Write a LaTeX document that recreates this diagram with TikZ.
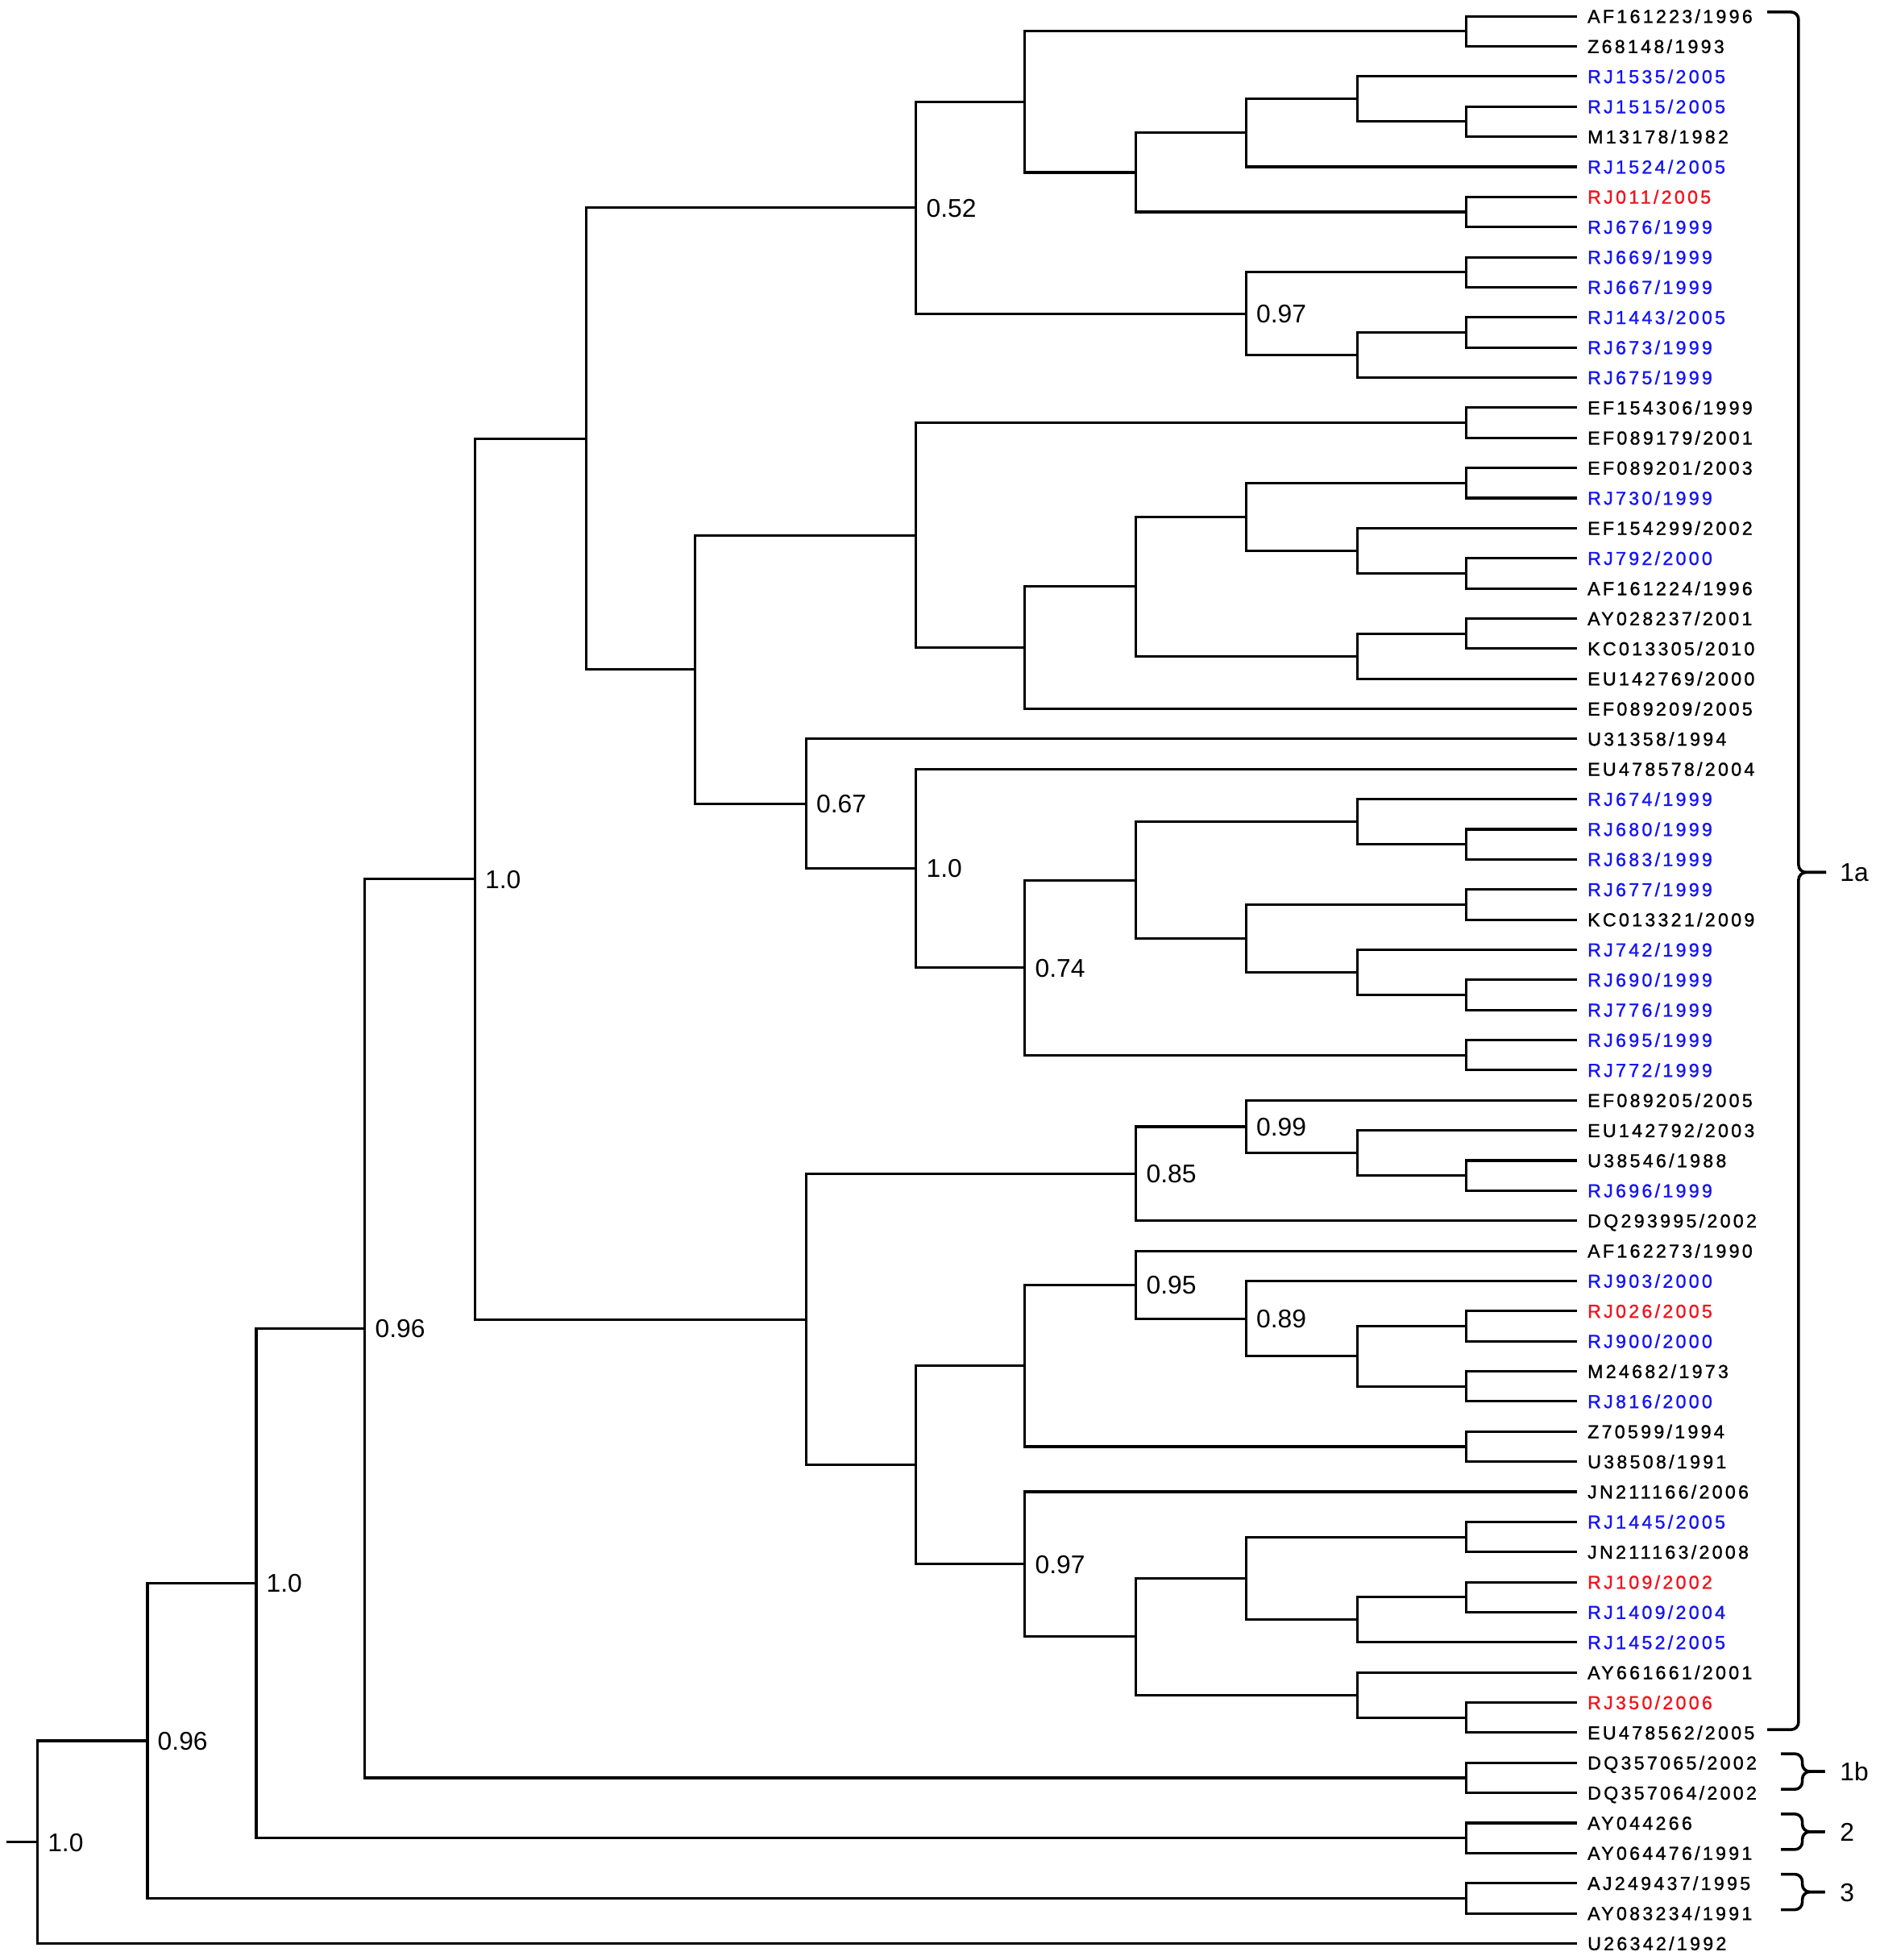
\documentclass[tikz,border=0pt]{standalone}
\usepackage{fontspec}
\newfontfamily\leaffont[LetterSpace=14,FakeBold=1.2]{Liberation Sans}
\newfontfamily\bsfont{Liberation Sans}
\definecolor{lblue}{RGB}{20,20,245}
\definecolor{lred}{RGB}{240,20,30}
\newcommand{\mkleaf}[3]{\coordinate (t#1) at (1262,#1); \node[leaf,text=#2] (l#1) at (1270,#1) {#3};}
\begin{document}
\begin{tikzpicture}[x=1pt,y=-24.09pt,
  leaf/.style={anchor=west,inner sep=0pt,text height=10.7pt,text depth=0pt,font=\leaffont\fontsize{15pt}{15pt}\selectfont},
  bs/.style={anchor=west,inner sep=0pt,text height=14.7pt,text depth=0pt,xshift=8pt,font=\bsfont\fontsize{20.5pt}{20.5pt}\selectfont},
  grp/.style={anchor=west,inner sep=0pt,text height=14.7pt,text depth=0pt,font=\bsfont\fontsize{20.5pt}{20.5pt}\selectfont},
  br/.style={line width=2pt,black},
  brk/.style={line width=2.3pt,black,rounded corners=6pt}]
\path[use as bounding box] (0pt,0pt) rectangle (1504pt,-1568pt);
\begin{scope}[yshift=11.09pt]
% leaves
\mkleaf{1}{black}{AF161223/1996}
\mkleaf{2}{black}{Z68148/1993}
\mkleaf{3}{lblue}{RJ1535/2005}
\mkleaf{4}{lblue}{RJ1515/2005}
\mkleaf{5}{black}{M13178/1982}
\mkleaf{6}{lblue}{RJ1524/2005}
\mkleaf{7}{lred}{RJ011/2005}
\mkleaf{8}{lblue}{RJ676/1999}
\mkleaf{9}{lblue}{RJ669/1999}
\mkleaf{10}{lblue}{RJ667/1999}
\mkleaf{11}{lblue}{RJ1443/2005}
\mkleaf{12}{lblue}{RJ673/1999}
\mkleaf{13}{lblue}{RJ675/1999}
\mkleaf{14}{black}{EF154306/1999}
\mkleaf{15}{black}{EF089179/2001}
\mkleaf{16}{black}{EF089201/2003}
\mkleaf{17}{lblue}{RJ730/1999}
\mkleaf{18}{black}{EF154299/2002}
\mkleaf{19}{lblue}{RJ792/2000}
\mkleaf{20}{black}{AF161224/1996}
\mkleaf{21}{black}{AY028237/2001}
\mkleaf{22}{black}{KC013305/2010}
\mkleaf{23}{black}{EU142769/2000}
\mkleaf{24}{black}{EF089209/2005}
\mkleaf{25}{black}{U31358/1994}
\mkleaf{26}{black}{EU478578/2004}
\mkleaf{27}{lblue}{RJ674/1999}
\mkleaf{28}{lblue}{RJ680/1999}
\mkleaf{29}{lblue}{RJ683/1999}
\mkleaf{30}{lblue}{RJ677/1999}
\mkleaf{31}{black}{KC013321/2009}
\mkleaf{32}{lblue}{RJ742/1999}
\mkleaf{33}{lblue}{RJ690/1999}
\mkleaf{34}{lblue}{RJ776/1999}
\mkleaf{35}{lblue}{RJ695/1999}
\mkleaf{36}{lblue}{RJ772/1999}
\mkleaf{37}{black}{EF089205/2005}
\mkleaf{38}{black}{EU142792/2003}
\mkleaf{39}{black}{U38546/1988}
\mkleaf{40}{lblue}{RJ696/1999}
\mkleaf{41}{black}{DQ293995/2002}
\mkleaf{42}{black}{AF162273/1990}
\mkleaf{43}{lblue}{RJ903/2000}
\mkleaf{44}{lred}{RJ026/2005}
\mkleaf{45}{lblue}{RJ900/2000}
\mkleaf{46}{black}{M24682/1973}
\mkleaf{47}{lblue}{RJ816/2000}
\mkleaf{48}{black}{Z70599/1994}
\mkleaf{49}{black}{U38508/1991}
\mkleaf{50}{black}{JN211166/2006}
\mkleaf{51}{lblue}{RJ1445/2005}
\mkleaf{52}{black}{JN211163/2008}
\mkleaf{53}{lred}{RJ109/2002}
\mkleaf{54}{lblue}{RJ1409/2004}
\mkleaf{55}{lblue}{RJ1452/2005}
\mkleaf{56}{black}{AY661661/2001}
\mkleaf{57}{lred}{RJ350/2006}
\mkleaf{58}{black}{EU478562/2005}
\mkleaf{59}{black}{DQ357065/2002}
\mkleaf{60}{black}{DQ357064/2002}
\mkleaf{61}{black}{AY044266}
\mkleaf{62}{black}{AY064476/1991}
\mkleaf{63}{black}{AJ249437/1995}
\mkleaf{64}{black}{AY083234/1991}
\mkleaf{65}{black}{U26342/1992}
% cherry pairs
\foreach \n/\p in {P1/1.5,P2/4.5,P3/7.5,P4/9.5,P5/11.5,P6/14.5,P7/16.5,P8/19.5,P9/21.5,P10/28.5,P11/30.5,P12/33.5,P13/39.5,P14/35.5,P15/44.5,P16/46.5,P17/48.5,P18/51.5,P19/53.5,P20/57.5,P21/59.5,P22/61.5,P23/63.5}
  \coordinate (\n) at (1173,\p);
% internal nodes
\coordinate (a1) at (820,3.84375);
\coordinate (a2) at (909,6.1875);
\coordinate (a3) at (997,4.875);
\coordinate (a4) at (1086,3.75);
\coordinate (b1) at (997,10.875);
\coordinate (b2) at (1086,12.25);
\coordinate (c1) at (733,7.359375);
\coordinate (d1) at (733,18.234375);
\coordinate (d2) at (820,21.96875);
\coordinate (d3) at (909,19.9375);
\coordinate (d4) at (997,17.625);
\coordinate (d5) at (1086,18.75);
\coordinate (d6) at (1086,22.25);
\coordinate (e1) at (645,27.1484375);
\coordinate (e2) at (733,29.296875);
\coordinate (e3) at (820,32.59375);
\coordinate (e4) at (909,29.6875);
\coordinate (e5) at (1086,27.75);
\coordinate (e6) at (997,31.625);
\coordinate (e7) at (1086,32.75);
\coordinate (f1) at (556,22.69140625);
\coordinate (g1) at (469,15.025390625);
\coordinate (h1) at (645,44.2734375);
\coordinate (h2) at (909,39.4375);
\coordinate (h3) at (997,37.875);
\coordinate (h4) at (1086,38.75);
\coordinate (h6) at (733,49.109375);
\coordinate (h7) at (820,45.8125);
\coordinate (h8) at (909,43.125);
\coordinate (h9) at (997,44.25);
\coordinate (h10) at (1086,45.5);
\coordinate (h11) at (820,52.40625);
\coordinate (h12) at (909,54.8125);
\coordinate (h13) at (997,52.875);
\coordinate (h14) at (1086,54.25);
\coordinate (h15) at (1086,56.75);
\coordinate (i1) at (380,29.6494);
\coordinate (j1) at (292,44.5747);
\coordinate (k1) at (205,53.0374);
\coordinate (l1) at (118,58.2687);
\coordinate (root) at (30,61.6343);
\coordinate (rs) at (5,61.6343);
% branches
\draw[br] (rs) -- (root);
\foreach \p/\c in {root/l1,root/t65,l1/k1,l1/P23,P23/t63,P23/t64,k1/j1,k1/P22,P22/t61,P22/t62,
  j1/i1,j1/P21,P21/t59,P21/t60,i1/g1,i1/h1,g1/c1,g1/f1,c1/a1,c1/b1,a1/P1,a1/a2,P1/t1,P1/t2,
  a2/a3,a2/P3,a3/a4,a3/t6,a4/t3,a4/P2,P2/t4,P2/t5,P3/t7,P3/t8,b1/P4,b1/b2,P4/t9,P4/t10,
  b2/P5,b2/t13,P5/t11,P5/t12,f1/d1,f1/e1,d1/P6,d1/d2,P6/t14,P6/t15,d2/d3,d2/t24,d3/d4,d3/d6,
  d4/P7,d4/d5,P7/t16,P7/t17,d5/t18,d5/P8,P8/t19,P8/t20,d6/P9,d6/t23,P9/t21,P9/t22,
  e1/t25,e1/e2,e2/t26,e2/e3,e3/e4,e3/P14,e4/e5,e4/e6,e5/t27,e5/P10,P10/t28,P10/t29,
  e6/P11,e6/e7,P11/t30,P11/t31,e7/t32,e7/P12,P12/t33,P12/t34,P14/t35,P14/t36,
  h1/h2,h1/h6,h2/h3,h2/t41,h3/t37,h3/h4,h4/t38,h4/P13,P13/t39,P13/t40,h6/h7,h6/h11,
  h7/h8,h7/P17,h8/t42,h8/h9,h9/t43,h9/h10,h10/P15,h10/P16,P15/t44,P15/t45,P16/t46,P16/t47,
  P17/t48,P17/t49,h11/t50,h11/h12,h12/h13,h12/h15,h13/P18,h13/h14,P18/t51,P18/t52,
  h14/P19,h14/t55,P19/t53,P19/t54,h15/t56,h15/P20,P20/t57,P20/t58}
  \draw[br] (\p) |- (\c);
% support values
\node[bs] (s-root) at (root) {1.0};
\node[bs] (s-l1) at (l1) {0.96};
\node[bs] (s-k1) at (k1) {1.0};
\node[bs] (s-j1) at (j1) {0.96};
\node[bs] (s-i1) at (i1) {1.0};
\node[bs] (s-c1) at (c1) {0.52};
\node[bs] (s-b1) at (b1) {0.97};
\node[bs] (s-e1) at (e1) {0.67};
\node[bs] (s-e2) at (e2) {1.0};
\node[bs] (s-e3) at (e3) {0.74};
\node[bs] (s-h2) at (h2) {0.85};
\node[bs] (s-h3) at (h3) {0.99};
\node[bs] (s-h8) at (h8) {0.95};
\node[bs] (s-h9) at (h9) {0.89};
\node[bs] (s-h11) at (h11) {0.97};
% group brackets
\coordinate (g1a-top) at (1414,0.86);
\coordinate (g1a-bot) at (1414,57.9);
\coordinate (g1a-tip) at (1461,29.43);
\draw[brk] (g1a-top) -- (1439,0.86) -- (1439,29.43) -- (g1a-tip);
\draw[brk] (g1a-bot) -- (1439,57.9) -- (1439,29.43) -- (g1a-tip);
\node[grp] (lab1a) at (1472,29.43) {1a};
\foreach \nm/\a/\b/\lab in {g1b/58.7/59.88/1b, g2/60.7/61.88/2, g3/62.7/63.88/3}{
  \pgfmathsetmacro{\m}{(\a+\b)/2}
  \coordinate (\nm-top) at (1425,\a);
  \coordinate (\nm-bot) at (1425,\b);
  \coordinate (\nm-tip) at (1460,\m);
  \draw[brk] (\nm-top) -- (1442,\a) -- (1442,\m) -- (\nm-tip);
  \draw[brk] (\nm-bot) -- (1442,\b) -- (1442,\m) -- (\nm-tip);
  \node[grp] (lab\nm) at (1472,\m) {\lab};
}
\end{scope}
\end{tikzpicture}
\end{document}
